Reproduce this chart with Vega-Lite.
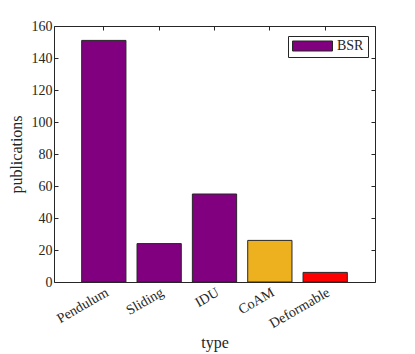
{
  "$schema": "https://vega.github.io/schema/vega-lite/v6.json",
  "width": 321,
  "height": 256,
  "autosize": {"type": "none"},
  "padding": {"left": 54, "top": 26, "right": 40, "bottom": 72},
  "background": "white",
  "config": {
    "view": {"stroke": null},
    "font": "Liberation Serif",
    "axis": {
      "domainColor": "#262626",
      "tickColor": "#262626",
      "labelColor": "#262626",
      "titleColor": "#262626",
      "labelFont": "Liberation Serif",
      "titleFont": "Liberation Serif",
      "labelFontSize": 14,
      "titleFontSize": 16,
      "titleFontWeight": "normal",
      "tickSize": -4,
      "grid": false,
      "domainWidth": 1,
      "tickWidth": 1
    },
    "legend": {"labelFont": "Liberation Serif"}
  },
  "data": {
    "values": [
      {"type": "Pendulum", "publications": 151, "series": "BSR"},
      {"type": "Sliding", "publications": 24, "series": "BSR"},
      {"type": "IDU", "publications": 55, "series": "BSR"},
      {"type": "CoAM", "publications": 26, "series": "CoAM"},
      {"type": "Deformable", "publications": 6, "series": "Deformable"}
    ]
  },
  "layer": [
    {
      "mark": {"type": "bar", "stroke": "#262626", "strokeWidth": 1},
      "encoding": {
        "x": {
          "field": "type", "type": "nominal", "sort": null,
          "scale": {"paddingInner": 0.2, "paddingOuter": 0.5},
          "axis": {"orient": "bottom", "labelAngle": -30, "labelAlign": "right", "labelBaseline": "top", "labelPadding": 7, "title": "type", "titlePadding": 4}
        },
        "y": {
          "field": "publications", "type": "quantitative",
          "scale": {"domain": [0, 160], "nice": false},
          "axis": {"orient": "left", "values": [0, 20, 40, 60, 80, 100, 120, 140, 160], "labelPadding": 6, "title": "publications", "titlePadding": 7}
        },
        "color": {
          "field": "series", "type": "nominal",
          "scale": {"domain": ["BSR", "CoAM", "Deformable"], "range": ["#800080", "#EDB120", "#FF0000"]},
          "legend": {
            "values": ["BSR"], "title": null, "orient": "none", "legendX": 234, "legendY": 10,
            "padding": 4, "strokeColor": "#262626", "fillColor": "white",
            "symbolType": "M-1,-0.25H1V0.25H-1Z", "symbolSize": 1600, "clipHeight": 12,
            "symbolStrokeColor": "#262626", "symbolStrokeWidth": 1, "symbolOpacity": 1,
            "labelFontSize": 14, "labelColor": "#262626", "labelOffset": 4
          }
        }
      }
    },
    {
      "mark": {"type": "bar", "opacity": 0},
      "encoding": {
        "x": {"field": "type", "type": "nominal", "sort": null, "axis": {"orient": "top", "labels": false, "title": null}},
        "y": {"field": "publications", "type": "quantitative", "axis": {"orient": "right", "labels": false, "title": null, "values": [0, 20, 40, 60, 80, 100, 120, 140, 160]}}
      }
    }
  ],
  "resolve": {"axis": {"x": "independent", "y": "independent"}}
}
